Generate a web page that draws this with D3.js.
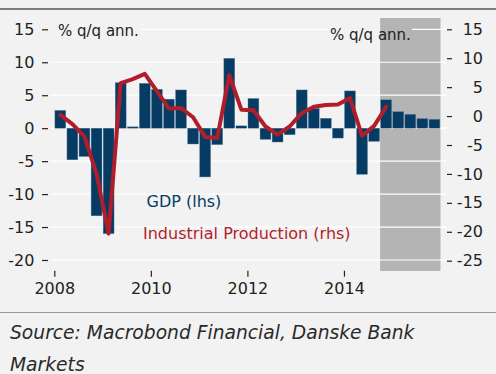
<!DOCTYPE html>
<html>
<head>
<meta charset="utf-8">
<script src="https://cdnjs.cloudflare.com/ajax/libs/d3/7.8.5/d3.min.js"></script>
<style>
  body { margin:0; background:#f2f2f2; }
  svg { display:block; }
  text { font-family:"DejaVu Sans", sans-serif; }
</style>
</head>
<body>
<div id="chart"></div>
<script>
// quarters 2008Q1 .. 2015Q4
var quarters = ["2008Q1","2008Q2","2008Q3","2008Q4","2009Q1","2009Q2","2009Q3","2009Q4",
                "2010Q1","2010Q2","2010Q3","2010Q4","2011Q1","2011Q2","2011Q3","2011Q4",
                "2012Q1","2012Q2","2012Q3","2012Q4","2013Q1","2013Q2","2013Q3","2013Q4",
                "2014Q1","2014Q2","2014Q3","2014Q4","2015Q1","2015Q2","2015Q3","2015Q4"];

// GDP, % q/q ann. (lhs)
var gdp = [2.7,-4.8,-4.3,-13.3,-16.0,6.9,0.2,6.8,5.9,4.4,5.8,-2.4,-7.4,-2.5,10.6,0.35,
           4.5,-1.7,-2.1,-1.0,5.8,3.0,1.5,-1.5,5.65,-7.0,-2.0,4.3,2.5,2.1,1.45,1.35];

// Industrial production, % q/q ann. (rhs) - ends 2014Q4
var ip = [0.2,-1.4,-3.5,-10.0,-20.3,5.7,6.4,7.3,4.3,1.3,1.4,-0.2,-3.6,-3.8,7.1,1.1,
          1.0,-1.8,-3.2,-1.8,0.5,1.6,1.9,2.0,3.1,-3.4,-1.7,1.6];

var forecastFrom = "2014Q4";
var yearTicks = [2008,2010,2012,2014];
var leftTicks = [15,10,5,0,-5,-10,-15,-20];
var rightTicks = [15,10,5,0,-5,-10,-15,-20,-25];

var W = 496, H = 374;
var navy = "#063c64", red = "#b21d2b", bg = "#f2f2f2";
var plotTop = 18, plotBottom = 271, gridLeft = 50, gridRight = 447;

var svg = d3.select("#chart").append("svg")
  .attr("width",W).attr("height",H);

svg.append("rect").attr("width",W).attr("height",H).attr("fill",bg);

// top rule and bottom separator
svg.append("rect").attr("x",0).attr("y",8).attr("width",W).attr("height",2).attr("fill","#7f7f7f");
svg.append("rect").attr("x",0).attr("y",312).attr("width",W).attr("height",1).attr("fill","#9a9a9a");

var x = d3.scaleBand().domain(quarters).range([54.3,440.5])
  .paddingInner(0.1).paddingOuter(0.05);
var xYear = d3.scaleLinear().domain([2008,2016]).range([54.3,440.5]);
var yL = d3.scaleLinear().domain([-20,15]).range([260,29.3]);
var yR = d3.scaleLinear().domain([-25,15]).range([260.7,29.3]);

// plain hyphen for negatives, like the original
var fmt = function(d) { return String(d); };

// forecast shade
var shadeX = x(forecastFrom) - x.step()*x.paddingInner()/2;
svg.append("rect")
  .attr("x",shadeX)
  .attr("y",plotTop)
  .attr("width",x.range()[1] - shadeX)
  .attr("height",plotBottom-plotTop)
  .attr("fill","#b4b4b4");

// unit labels
var unitL = svg.append("text").attr("x",58).attr("y",36)
  .attr("font-size",15).attr("fill","#222").text("% q/q ann.");
var unitR = svg.append("text").attr("x",330).attr("y",40)
  .attr("font-size",15).attr("fill","#222").text("% q/q ann.");

var lEnd = 58 + unitL.node().getComputedTextLength();
var rEnd = 330 + unitR.node().getComputedTextLength();

// gridlines (lhs ticks), top one broken by the unit labels
var grid = svg.insert("g","text");
leftTicks.forEach(function(t) {
  var segs = t == 15 ? [[lEnd+2,328],[rEnd+1,gridRight]] : [[gridLeft,gridRight]];
  segs.forEach(function(s) {
    grid.append("line")
      .attr("x1",s[0]).attr("x2",s[1])
      .attr("y1",yL(t)).attr("y2",yL(t))
      .attr("stroke","#fff").attr("stroke-width",1.2);
  });
});

// bars
svg.append("g").selectAll("rect")
  .data(gdp).enter()
  .append("rect")
    .attr("x",function(d,i) { return x(quarters[i]); })
    .attr("width",x.bandwidth())
    .attr("y",function(d) { return d > 0 ? yL(d) : yL(0); })
    .attr("height",function(d) { return Math.abs(yL(d) - yL(0)); })
    .attr("fill",navy)
    .attr("stroke","#5d7f9c")
    .attr("stroke-width",0.4);

// industrial production line
var line = d3.line()
  .x(function(d,i) { return x(quarters[i]) + x.bandwidth()/2; })
  .y(function(d) { return yR(d); });

svg.append("path").datum(ip)
  .attr("d",line)
  .attr("fill","none")
  .attr("stroke",red)
  .attr("stroke-width",4)
  .attr("stroke-linejoin","round")
  .attr("stroke-linecap","round");

// axes
var axL = svg.append("g").attr("transform","translate(48,0)")
  .call(d3.axisLeft(yL).tickValues(leftTicks).tickFormat(fmt).tickSize(6).tickPadding(7.7));
var axR = svg.append("g").attr("transform","translate(447,0)")
  .call(d3.axisRight(yR).tickValues(rightTicks).tickFormat(fmt).tickSize(5).tickPadding(6));
var axB = svg.append("g").attr("transform","translate(0,270.7)")
  .call(d3.axisBottom(xYear).tickValues(yearTicks).tickFormat(d3.format("d")).tickSize(6).tickPadding(5.6));

[axL,axR,axB].forEach(function(a) {
  a.select(".domain").remove();
  a.selectAll("line").attr("stroke","#222").attr("stroke-width",1.2);
  a.selectAll("text")
    .attr("font-family","DejaVu Sans")
    .attr("font-size",16)
    .attr("fill","#222");
});
axR.selectAll("text").attr("text-anchor","end").attr("x",36);

// legend
svg.append("text").attr("x",146.5).attr("y",206.5)
  .attr("font-size",16).attr("fill",navy).text("GDP (lhs)");
svg.append("text").attr("x",143).attr("y",239)
  .attr("font-size",16).attr("fill",red).text("Industrial Production (rhs)");

// source
svg.append("text").attr("x",10).attr("y",339)
  .attr("font-size",18.7).attr("font-style","italic").attr("fill","#2a2a2a")
  .text("Source: Macrobond Financial, Danske Bank");
svg.append("text").attr("x",10).attr("y",371)
  .attr("font-size",18.7).attr("font-style","italic").attr("fill","#2a2a2a")
  .text("Markets");
</script>
</body>
</html>
